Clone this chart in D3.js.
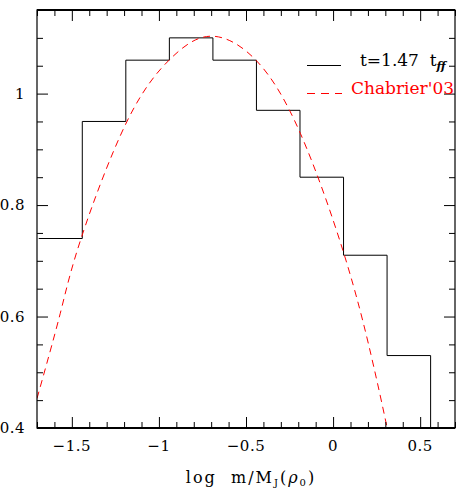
<!DOCTYPE html>
<html>
<head>
<meta charset="utf-8">
<script src="https://cdn.jsdelivr.net/npm/d3@7"></script>
<style>
  body { margin: 0; background: #fff; }
  svg { display: block; overflow: visible; }
  text { font-family: "DejaVu Serif", serif; fill: #000; }
</style>
</head>
<body>
<svg></svg>
<script>
// histogram at t = 1.47 t_ff : bin edges and heights
const binEdges = [-1.69, -1.44, -1.19, -0.94, -0.69, -0.44, -0.19, 0.06, 0.31, 0.56];
const binValues = [0.74, 0.95, 1.06, 1.10, 1.06, 0.97, 0.85, 0.71, 0.53];

// Chabrier'03 curve, points
const chabX = [-1.70, -1.567, -1.447, -1.185, -0.932, -0.70, -0.44, -0.187, 0.065, 0.218, 0.31];
const chabY = [0.453, 0.605, 0.740, 0.949, 1.063, 1.103, 1.059, 0.928, 0.710, 0.531, 0.401];

const xDomain = [-1.7, 0.7];
const yDomain = [0.4, 1.15];

const margin = {t: 10, r: 1, b: 62, l: 37};
const size = {w: 456, h: 490};
const w = size.w - margin.l - margin.r;
const h = size.h - margin.t - margin.b;

const svg = d3.select('svg')
    .attr('width', size.w)
    .attr('height', size.h);

const x = d3.scaleLinear().domain(xDomain).range([0, w]);
const y = d3.scaleLinear().domain(yDomain).range([h, 0]);

const g = svg.append('g').attr('transform', `translate(${margin.l},${margin.t})`);

svg.append('defs').append('clipPath').attr('id', 'plot')
  .append('rect').attr('width', w).attr('height', h);

const plotG = g.append('g').attr('clip-path', 'url(#plot)');

// histogram as a step line
const histPts = binValues.map((v, i) => [binEdges[i], v]);
histPts.push([binEdges[binEdges.length - 1], yDomain[0]]);
plotG.append('path')
    .attr('d', d3.line().x(d => x(d[0])).y(d => y(d[1])).curve(d3.curveStepAfter)(histPts))
    .attr('fill', 'none')
    .attr('stroke', '#000')
    .attr('stroke-width', 1);

// Chabrier curve
const chab = chabX.map((v, i) => [v, chabY[i]]);
plotG.append('path')
    .attr('d', d3.line().x(d => x(d[0])).y(d => y(d[1])).curve(d3.curveNatural)(chab))
    .attr('fill', 'none')
    .attr('stroke', '#ff0000')
    .attr('stroke-width', 1)
    .attr('stroke-dasharray', '7,5');

// ticks on all four sides, pointing inward
const fmt = d3.format('~g');
const xMajor = x.ticks(5), xMinor = x.ticks(24);
const yMajor = y.ticks(4), yMinor = y.ticks(15);
const isMajor = (list, v) => list.some(m => Math.abs(m - v) < 1e-9);

function drawTicks(axisFn, scale, major, minor, where) {
  const minorOnly = minor.filter(v => !isMajor(major, v));
  const a1 = g.append('g').attr('transform', where)
      .call(axisFn(scale).tickValues(minorOnly).tickSize(-6).tickFormat(''));
  const a2 = g.append('g').attr('transform', where)
      .call(axisFn(scale).tickValues(major).tickSize(-11).tickFormat(''));
  [a1, a2].forEach(a => {
    a.select('.domain').remove();
    a.selectAll('line').attr('stroke', '#000').attr('stroke-width', 1);
  });
}
drawTicks(d3.axisBottom, x, xMajor, xMinor, `translate(0,${h})`);
drawTicks(d3.axisTop, x, xMajor, xMinor, 'translate(0,0)');
drawTicks(d3.axisLeft, y, yMajor, yMinor, 'translate(0,0)');
drawTicks(d3.axisRight, y, yMajor, yMinor, `translate(${w},0)`);

// frame
g.append('rect').attr('width', w).attr('height', h)
    .attr('fill', 'none').attr('stroke', '#000').attr('stroke-width', 1.2);
g.append('line').attr('x1', 0).attr('x2', w).attr('y1', 0).attr('y2', 0)
    .attr('stroke', '#000').attr('stroke-width', 2);
g.append('line').attr('x1', 0).attr('x2', w).attr('y1', h).attr('y2', h)
    .attr('stroke', '#000').attr('stroke-width', 2);

// tick labels
g.selectAll('.xl').data(xMajor).join('text')
    .attr('x', d => x(d)).attr('y', h + 23)
    .attr('text-anchor', 'middle')
    .attr('font-size', 15)
    .attr('letter-spacing', 0.5)
    .text(d => fmt(d));

g.selectAll('.yl').data(yMajor).join('text')
    .attr('x', -12).attr('y', d => y(d)).attr('dy', '0.36em')
    .attr('text-anchor', 'end')
    .attr('font-size', 15)
    .attr('letter-spacing', 0.5)
    .text(d => fmt(d));

// x axis title
const xt = svg.append('text')
    .attr('x', 251).attr('y', 483)
    .attr('text-anchor', 'middle')
    .attr('font-size', 16)
    .attr('letter-spacing', 2)
    .attr('xml:space', 'preserve');
xt.append('tspan').text('log  m/M');
xt.append('tspan').attr('font-size', 10).attr('dy', 3).text('J');
xt.append('tspan').attr('dy', -3).text('(');
xt.append('tspan').attr('font-style', 'italic').text('ρ');
xt.append('tspan').attr('font-size', 10).attr('dy', 3).text('0');
xt.append('tspan').attr('dy', -3).text(')');

// legend
const legG = svg.append('g');
legG.append('line').attr('x1', 307).attr('x2', 341).attr('y1', 65.5).attr('y2', 65.5)
    .attr('stroke', '#000').attr('stroke-width', 1);
const lt = legG.append('text').attr('x', 360).attr('y', 66)
    .attr('font-size', 17).attr('xml:space', 'preserve');
lt.append('tspan').text('t=1.47  t');
lt.append('tspan').attr('font-size', 11).attr('font-weight', 'bold').attr('font-style', 'italic')
    .attr('dy', 4).text('ff');

legG.append('line').attr('x1', 307).attr('x2', 342).attr('y1', 93.5).attr('y2', 93.5)
    .attr('stroke', '#ff0000').attr('stroke-width', 1).attr('stroke-dasharray', '8,6');
legG.append('text').attr('x', 351).attr('y', 94)
    .attr('font-size', 17)
    .style('fill', '#ff0000')
    .text("Chabrier'03");
</script>
</body>
</html>
